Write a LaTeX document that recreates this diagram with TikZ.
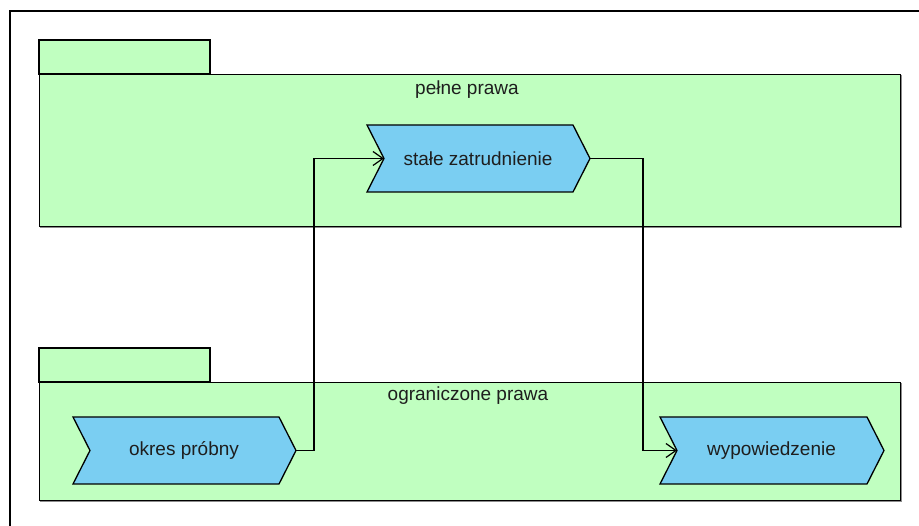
\documentclass[tikz,border=0pt]{standalone}
\usepackage{fontspec}
\setmainfont{Liberation Sans}
\usetikzlibrary{arrows.meta,calc}
\definecolor{pkggreen}{RGB}{192,255,192}
\definecolor{procblue}{RGB}{122,206,242}
\definecolor{txt}{RGB}{30,30,30}
\begin{document}
\begin{tikzpicture}[x=1pt,y=-1pt,
  pkg/.style={draw=black,fill=pkggreen,line width=1.3pt},
  pkgshade/.style={draw=black!45,line width=1pt},
  procbox/.style={draw=none,minimum width=206pt,minimum height=67pt,inner sep=0pt,outer sep=0pt,font=\fontsize{19}{22}\selectfont,text=txt},
  proc/.style={draw=black,fill=procblue,line width=1.3pt,line join=miter},
  pkglabel/.style={font=\fontsize{19}{22}\selectfont,text=txt,inner sep=0pt},
  conn/.style={draw=black,line width=1.2pt,-{Straight Barb[length=10pt,width=14pt,line width=1.2pt]}}]
\useasboundingbox (0,0) rectangle (919,526);
% frame
\draw[line width=1.4pt] (919,11) -- (10,11) -- (10,526);
% upper package
\draw[pkgshade] (901.5,75) -- (901.5,227.5) -- (40,227.5);
\draw[pkg] (39,40) rectangle (210,74);
\node[pkg,anchor=north west,minimum width=861pt,minimum height=152pt,inner sep=0pt] (pkgA) at (39,74) {};
\node[pkglabel] (labA) at (467,90) {pełne prawa};
% lower package
\draw[pkgshade] (901.5,383) -- (901.5,501.5) -- (40,501.5);
\draw[pkg] (39,348) rectangle (210,382);
\node[pkg,anchor=north west,minimum width=861pt,minimum height=118pt,inner sep=0pt] (pkgB) at (39,382) {};
\node[pkglabel] (labB) at (468,396) {ograniczone prawa};
% process nodes
\node[procbox,anchor=north west] (stale) at (367,125) {};
\node[procbox,anchor=north west] (okres) at (73,417) {};
\node[procbox,anchor=north west,minimum width=207pt] (wyp) at (660,417) {};
\foreach \n in {stale,okres,wyp}{
  \draw[proc] (\n.north west) -- (\n.north east) -- ($(\n.east)+(17,0)$) coordinate (\n-tip)
    -- (\n.south east) -- (\n.south west) -- ($(\n.west)+(17,0)$) coordinate (\n-notch) -- cycle;
}
\node[procbox,anchor=center] at ($(stale.center)+(8,0)$) {stałe zatrudnienie};
\node[procbox,anchor=center] at ($(okres.center)+(8,0)$) {okres próbny};
\node[procbox,anchor=center] at ($(wyp.center)+(8,0)$) {wypowiedzenie};
% connectors
\draw[conn] (okres-tip) -- ++(18,0) |- (stale-notch);
\draw[conn] (stale-tip) -- ++(53,0) |- (wyp-notch);
\end{tikzpicture}
\end{document}
